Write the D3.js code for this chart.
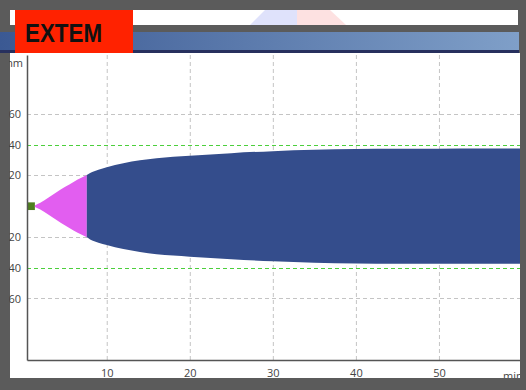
<!DOCTYPE html>
<html><head><meta charset="utf-8">
<script src="https://cdn.jsdelivr.net/npm/d3@7"></script>
<style>html,body{margin:0;padding:0;background:#5b5b5b;}svg{display:block;}</style>
</head><body>
<script>
// ---- data ----
const title = "EXTEM";
const xTicks = [10, 20, 30, 40, 50];
const yTicks = [60, 40, 20, -20, -40, -60];
const grayLines = [60, 20, -20, -60];
const refLines = [40, -40];
const baseTimes = [0.4, 1.35];
const baseAmps = [2.5, 2.5];
const pinkTimes = [1.35, 2, 3, 4, 5, 6, 7, 7.6];
const pinkAmps = [0.5, 2.2, 5.6, 9.2, 12.6, 15.8, 18.6, 20.2];
const blueTimes = [7.6, 8, 9, 10, 12, 14, 16, 18, 20, 25, 30, 35, 40, 45, 50, 55, 60];
const blueAmps = [20.2, 21.6, 23.7, 25.3, 27.9, 29.8, 31.2, 32.1, 32.8, 34.5, 35.8, 36.7, 37.2, 37.4, 37.4, 37.5, 37.5];

const W = 526, H = 390;
const svg = d3.select("body").append("svg").attr("width", W).attr("height", H);
svg.append("rect").attr("width", W).attr("height", H).attr("fill", "#5b5b5b");

// top white strip with faded logo
svg.append("rect").attr("x", 10).attr("y", 10).attr("width", 508).attr("height", 15).attr("fill", "#ffffff");
svg.append("path").attr("d", "M265,10 L297,10 L297,25 L250,25 Z").attr("fill", "#dfe2fb");
svg.append("path").attr("d", "M297,10 L330,10 L346,25 L297,25 Z").attr("fill", "#fde1e1");

// blue gradient title bar
const defs = svg.append("defs");
const g = defs.append("linearGradient").attr("id", "bar").attr("x1", "0").attr("x2", "1");
g.append("stop").attr("offset", "0").attr("stop-color", "#3b5993");
g.append("stop").attr("offset", "1").attr("stop-color", "#7f9fc8");
svg.append("rect").attr("x", 0).attr("y", 32).attr("width", 519).attr("height", 18).attr("fill", "url(#bar)");
svg.append("rect").attr("x", 0).attr("y", 50).attr("width", 519).attr("height", 3).attr("fill", "#27305e");

// plot panel
svg.append("rect").attr("x", 10).attr("y", 53).attr("width", 512).attr("height", 325).attr("fill", "#ffffff");

const x = d3.scaleLinear().domain([0.4, 60]).range([27, 522]);
const y = d3.scaleLinear().domain([-100, 98.3]).range([360, 55]);

// grid
const grid = svg.append("g");
grid.selectAll("line.v").data(xTicks).join("line").attr("class", "v")
  .attr("x1", d => x(d) + 0.5).attr("x2", d => x(d) + 0.5).attr("y1", 55).attr("y2", 360)
  .attr("stroke", "#c4c4c4").attr("stroke-width", 1).attr("stroke-dasharray", "4,3");
grid.selectAll("line.h").data(grayLines).join("line").attr("class", "h")
  .attr("x1", 27).attr("x2", 522).attr("y1", d => Math.round(y(d)) + 0.5).attr("y2", d => Math.round(y(d)) + 0.5)
  .attr("stroke", "#c4c4c4").attr("stroke-width", 1).attr("stroke-dasharray", "4,3");
grid.selectAll("line.r").data(refLines).join("line").attr("class", "r")
  .attr("x1", 27).attr("x2", 522).attr("y1", d => Math.round(y(d)) + 0.5).attr("y2", d => Math.round(y(d)) + 0.5)
  .attr("stroke", "#4ccf3c").attr("stroke-width", 1).attr("stroke-dasharray", "4,3");

// trace
const area = d3.area().x(d => x(d[0])).y0(d => y(-d[1])).y1(d => y(d[1])).curve(d3.curveMonotoneX);
const zip = (a, b) => a.map((t, i) => [t, b[i]]);
svg.append("path").datum(zip(baseTimes, baseAmps)).attr("d", d3.area().x(d => x(d[0])).y0(d => y(-d[1])).y1(d => y(d[1])))
  .attr("fill", "#4f7f1f");
svg.append("path").datum(zip(pinkTimes, pinkAmps)).attr("d", area).attr("fill", "#e25ef0");
svg.append("path").datum(zip(blueTimes, blueAmps)).attr("d", area).attr("fill", "#344d8c");

// axes
const font = "'Open Sans', 'DejaVu Sans', sans-serif";
const xa = svg.append("g").attr("transform", "translate(0,360)")
  .call(d3.axisBottom(x).tickValues(xTicks).tickSize(0).tickSizeOuter(0).tickPadding(9));
xa.select(".domain").attr("stroke", "#555").attr("stroke-width", 1.5);
xa.selectAll("text").attr("font-family", font).attr("font-size", 11).attr("fill", "#444");
const ya = svg.append("g").attr("transform", "translate(27,0)")
  .call(d3.axisLeft(y).tickValues(yTicks).tickFormat(d => Math.abs(d)).tickSize(0).tickSizeOuter(0).tickPadding(6));
ya.select(".domain").attr("stroke", "#555").attr("stroke-width", 1.5);
ya.selectAll("text").attr("font-family", font).attr("font-size", 11).attr("fill", "#444");
svg.append("text").attr("x", 23).attr("y", 67).attr("text-anchor", "end").attr("font-family", font)
  .attr("font-size", 11).attr("fill", "#444").text("mm");
svg.append("text").attr("x", 503).attr("y", 380).attr("font-family", font)
  .attr("font-size", 11).attr("fill", "#444").text("min");

// frame borders on top
svg.append("rect").attr("x", 520).attr("y", 0).attr("width", 6).attr("height", H).attr("fill", "#5b5b5b");
svg.append("rect").attr("x", 0).attr("y", 378).attr("width", W).attr("height", 12).attr("fill", "#5b5b5b");
svg.append("rect").attr("x", 0).attr("y", 53).attr("width", 9).attr("height", 337).attr("fill", "#5b5b5b");
svg.append("rect").attr("x", 0).attr("y", 0).attr("width", 9).attr("height", 32).attr("fill", "#5b5b5b");

// red title box
svg.append("rect").attr("x", 15).attr("y", 10).attr("width", 118).attr("height", 43).attr("fill", "#ff2200");
svg.append("text").attr("x", 25).attr("y", 42).attr("font-family", "'Liberation Sans', Arial, sans-serif")
  .attr("font-weight", "bold").attr("font-size", 25).attr("fill", "#111")
  .attr("textLength", 77).attr("lengthAdjust", "spacingAndGlyphs").text(title);
</script>
</body></html>
